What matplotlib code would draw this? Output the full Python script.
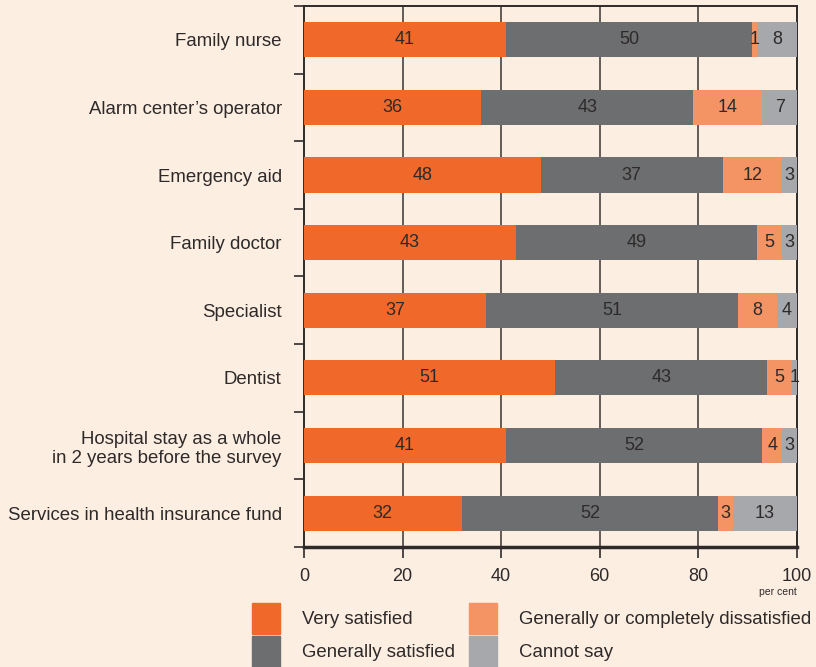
import matplotlib.pyplot as plt
from matplotlib.patches import Rectangle
from matplotlib.ticker import FixedLocator

plt.rcParams['font.family'] = ['Liberation Sans', 'DejaVu Sans']

# satisfaction with health services, per cent
services = [
    "Family nurse",
    "Alarm center\u2019s operator",
    "Emergency aid",
    "Family doctor",
    "Specialist",
    "Dentist",
    "Hospital stay as a whole\nin 2 years before the survey",
    "Services in health insurance fund",
]
very_satisfied = [41, 36, 48, 43, 37, 51, 41, 32]
generally_satisfied = [50, 43, 37, 49, 51, 43, 52, 52]
dissatisfied = [1, 14, 12, 5, 8, 5, 4, 3]
cannot_say = [8, 7, 3, 3, 4, 1, 3, 13]

series_names = ["Very satisfied", "Generally satisfied",
                "Generally or completely dissatisfied", "Cannot say"]
series = [very_satisfied, generally_satisfied, dissatisfied, cannot_say]
colors = ["#F0692B", "#6D6E70", "#F49364", "#A7A8AB"]

bg = "#FDEEE2"
ink = "#2E2A2A"
fs = 13

fig = plt.figure(figsize=(8.16, 6.67), dpi=100, facecolor=bg)
ax = fig.add_axes([0.3725, 0.18, 0.604, 0.811])
ax.set_facecolor(bg)

ypos = list(range(len(services)))
left = [0] * len(services)
for vals, col in zip(series, colors):
    ax.barh(ypos, vals, left=left, height=0.52, color=col, zorder=3)
    for y, l, v in zip(ypos, left, vals):
        ax.text(l + v / 2, y, str(v), ha="center", va="center",
                fontsize=fs, color=ink, zorder=4)
    left = [a + b for a, b in zip(left, vals)]

ax.set_xlim(0, 100)
ax.set_ylim(len(services) - 0.5, -0.5)
ax.set_xticks([0, 20, 40, 60, 80, 100])
ax.tick_params(axis="x", length=8, width=1.2, color=ink, labelsize=fs,
               labelcolor=ink, pad=7)
ax.set_yticks(ypos)
ax.set_yticklabels(services, fontsize=13.4, color=ink, linespacing=1.2)
ax.tick_params(axis="y", which="major", length=0, pad=16)
ax.yaxis.set_minor_locator(FixedLocator([i - 0.5 for i in range(len(services) + 1)]))
ax.tick_params(axis="y", which="minor", length=7, width=1.2, color=ink)
for lab in ax.get_yticklabels():
    lab.set_multialignment("right")

for x in [20, 40, 60, 80]:
    ax.axvline(x, color="#3A3434", lw=1.1, zorder=1)

for side in ["left", "right", "top"]:
    ax.spines[side].set_color(ink)
    ax.spines[side].set_linewidth(1.4)
ax.spines["bottom"].set_color(ink)
ax.spines["bottom"].set_linewidth(2.5)

ax.text(1.0, -0.084, "per cent", transform=ax.transAxes, ha="right",
        va="center", fontsize=7.5, color=ink)

# legend boxes drawn in figure coordinates
W, H = 816, 667
sw, sh = 28, 31
entries = [(252, 603, 0), (252, 636, 1), (469, 603, 2), (469, 636, 3)]
for x0, y0, k in entries:
    fig.patches.append(Rectangle((x0 / W, 1 - (y0 + sh) / H), sw / W, sh / H,
                                 transform=fig.transFigure,
                                 color=colors[k]))
    fig.text((x0 + 50) / W, 1 - (y0 + sh / 2 + 1) / H, series_names[k],
             ha="left", va="center", fontsize=13.4, color=ink)

fig.savefig("out.png", dpi=100, facecolor=bg)
